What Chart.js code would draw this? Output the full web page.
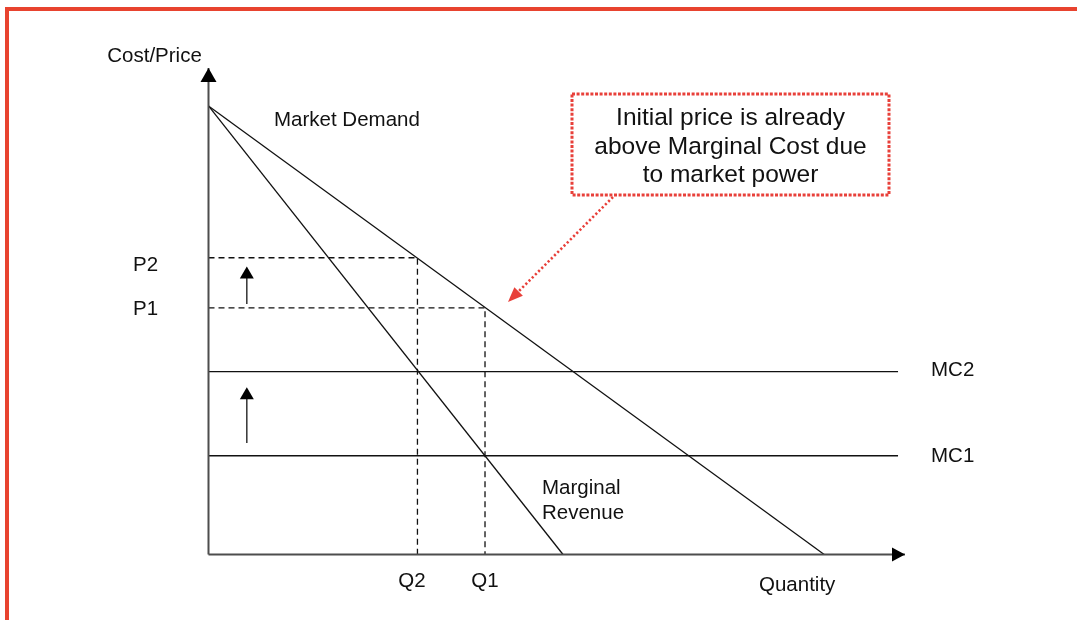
<!DOCTYPE html>
<html><head><meta charset="utf-8">
<script src="https://cdn.jsdelivr.net/npm/chart.js@4.4.0/dist/chart.umd.min.js"></script>
<style>html,body{margin:0;padding:0;background:#fff;overflow:hidden}#wrap{width:1077px;height:620px;position:relative}canvas{display:block}</style>
</head><body><div id="wrap"><canvas id="c" width="1077" height="620"></canvas></div>
<script>
// ---- data (quantity on x, cost/price on y; arbitrary units 0..100) ----
const quantityLabels = ['Q2', 'Q1'];
const quantityValues = [30, 39.7];
const priceLabels = ['P2', 'P1'];
const priceValues = [61, 50.7];
const mcLabels = ['MC2', 'MC1'];
const mcValues = [37.6, 20.3];
const mcEndQuantity = 99;
const demandQuantity = [0, 88.4];
const demandPrice = [92.2, 0];
const mrQuantity = [0, 50.9];
const mrPrice = [92.2, 0];
const axisMaxQuantity = 100;
const axisMaxPrice = 100;
const shiftArrowQuantity = 5.5;
const shiftArrowFrom = [51.5, 22.9];
const shiftArrowTo = [59.2, 34.4];
const titleY = 'Cost/Price';
const titleX = 'Quantity';
const demandLabel = 'Market Demand';
const mrLabel = ['Marginal', 'Revenue'];
const noteLines = ['Initial price is already', 'above Marginal Cost due', 'to market power'];

const pts = (xs, ys) => xs.map((x, i) => ({x, y: ys[i]}));
const FONT = '"Liberation Sans", Arial, Helvetica, sans-serif';
const LINE = '#111';

const datasets = [];
// axes
datasets.push({data: [{x:0,y:0},{x:0,y:axisMaxPrice}], borderColor:'#4d4d4d', borderWidth:2});
datasets.push({data: [{x:0,y:0},{x:axisMaxQuantity,y:0}], borderColor:'#4d4d4d', borderWidth:2});
// demand and MR
datasets.push({data: pts(demandQuantity, demandPrice), borderColor: LINE, borderWidth: 1.3});
datasets.push({data: pts(mrQuantity, mrPrice), borderColor: LINE, borderWidth: 1.3});
// MC lines
mcValues.forEach(v => datasets.push({data: [{x:0,y:v},{x:mcEndQuantity,y:v}], borderColor: LINE, borderWidth: 1.3}));
// dashed price/quantity guides
priceValues.forEach((p, i) => datasets.push({
  data: [{x:0,y:p},{x:quantityValues[i],y:p},{x:quantityValues[i],y:0}],
  borderColor: LINE, borderWidth: 1.3, borderDash: [6,4]
}));
datasets.forEach(d => { d.showLine = true; d.pointRadius = 0; d.fill = false; d.clip = false; d.tension = 0; });

function arrowHead(ctx, tx, ty, ang, len, half, color) {
  ctx.save();
  ctx.translate(tx, ty); ctx.rotate(ang);
  ctx.beginPath();
  ctx.moveTo(0, 0); ctx.lineTo(-len, -half); ctx.lineTo(-len, half); ctx.closePath();
  ctx.fillStyle = color; ctx.fill();
  ctx.restore();
}

const decor = {
  id: 'decor',
  beforeDraw(chart) {
    const ctx = chart.ctx;
    ctx.save();
    ctx.fillStyle = '#e8432f';
    ctx.fillRect(5, 7, 1077 - 5, 4);
    ctx.fillRect(5, 7, 4, 620 - 7);
    ctx.restore();
  },
  afterDatasetsDraw(chart) {
    const ctx = chart.ctx;
    const xs = chart.scales.x, ys = chart.scales.y;
    const X = v => xs.getPixelForValue(v), Y = v => ys.getPixelForValue(v);
    ctx.save();
    // axis arrowheads
    arrowHead(ctx, X(0), Y(axisMaxPrice), -Math.PI/2, 14, 8, '#000');
    arrowHead(ctx, X(axisMaxQuantity), Y(0), 0, 13, 7, '#000');
    // shift arrows
    shiftArrowFrom.forEach((f, i) => {
      const x = X(shiftArrowQuantity);
      ctx.beginPath();
      ctx.strokeStyle = '#333'; ctx.lineWidth = 1.5;
      ctx.moveTo(x, Y(f)); ctx.lineTo(x, Y(shiftArrowTo[i]) + 10); ctx.stroke();
      arrowHead(ctx, x, Y(shiftArrowTo[i]), -Math.PI/2, 12, 7, '#000');
    });
    // texts
    ctx.fillStyle = '#111';
    ctx.font = '20.5px ' + FONT;
    ctx.textBaseline = 'alphabetic';
    ctx.textAlign = 'center';
    ctx.fillText(titleY, X(0) - 54, Y(axisMaxPrice) - 6);
    ctx.textAlign = 'left';
    ctx.fillText(demandLabel, X(0) + 65.5, 126);
    const pDy = [13.5, 7];
    priceLabels.forEach((t, i) => ctx.fillText(t, 133, Y(priceValues[i]) + pDy[i]));
    const mDy = [4.5, 6];
    mcLabels.forEach((t, i) => ctx.fillText(t, X(mcEndQuantity) + 33, Y(mcValues[i]) + mDy[i]));
    ctx.textAlign = 'center';
    const qDx = [-5.5, 0];
    quantityLabels.forEach((t, i) => ctx.fillText(t, X(quantityValues[i]) + qDx[i], Y(0) + 32.5));
    ctx.textAlign = 'left';
    ctx.fillText(mrLabel[0], 542, 494);
    ctx.fillText(mrLabel[1], 542, 519);
    ctx.fillText(titleX, 759, 591);
    // note box
    ctx.strokeStyle = '#e8403a';
    ctx.lineWidth = 3;
    ctx.setLineDash([3, 1.6]);
    ctx.strokeRect(572, 94, 317, 101);
    ctx.font = '24.5px ' + FONT;
    ctx.textAlign = 'center';
    ctx.fillStyle = '#111';
    noteLines.forEach((t, i) => ctx.fillText(t, 730.5, 125 + i * 28.5));
    // pointer arrow
    const sx = 613, sy = 197, tx = 508, ty = 302;
    const ang = Math.atan2(ty - sy, tx - sx);
    ctx.setLineDash([2.2, 2.3]);
    ctx.lineWidth = 2.6;
    ctx.beginPath();
    ctx.moveTo(sx, sy);
    ctx.lineTo(tx - 12 * Math.cos(ang), ty - 12 * Math.sin(ang));
    ctx.stroke();
    ctx.setLineDash([]);
    arrowHead(ctx, tx, ty, ang, 15, 6, '#e8403a');
    ctx.restore();
  }
};

new Chart(document.getElementById('c'), {
  type: 'scatter',
  data: {datasets},
  options: {
    responsive: false,
    devicePixelRatio: 1,
    animation: false,
    layout: {padding: {left: 208.5, right: 172, top: 68, bottom: 65.5}},
    plugins: {legend: {display: false}, tooltip: {enabled: false}},
    scales: {
      x: {type: 'linear', min: 0, max: axisMaxQuantity, display: false},
      y: {type: 'linear', min: 0, max: axisMaxPrice, display: false}
    }
  },
  plugins: [decor]
});
</script>
</body></html>
